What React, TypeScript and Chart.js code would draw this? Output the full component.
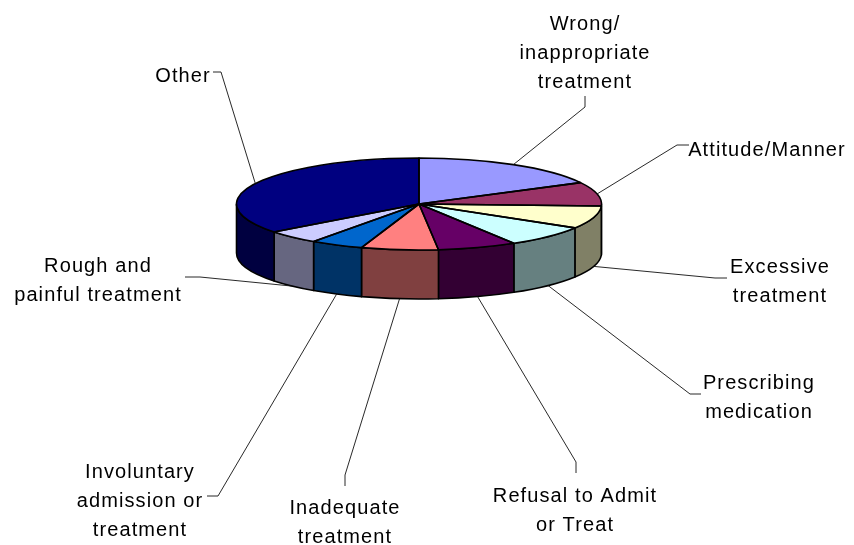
import React, { useEffect, useRef } from "react";
import { Chart, registerables } from "chart.js";

Chart.register(...registerables);

const categories = [
  "Wrong/inappropriate treatment",
  "Attitude/Manner",
  "Excessive treatment",
  "Prescribing medication",
  "Refusal to Admit or Treat",
  "Inadequate treatment",
  "Involuntary admission or treatment",
  "Rough and painful treatment",
  "Other",
];
const shareValues = [17.3, 8.4, 8.0, 7.6, 7.0, 6.8, 4.7, 4.8, 35.4];
const topColors = ["#9999FF", "#993366", "#FFFFCC", "#CCFFFF", "#660066", "#FF8080", "#0066CC", "#CCCCFF", "#000080"];
const wallColors = ["#4D4D80", "#4D1A33", "#808066", "#668080", "#330033", "#804040", "#003366", "#666680", "#000040"];

const labelLines = [
  ["Wrong/", "inappropriate", "treatment"],
  ["Attitude/Manner"],
  ["Excessive", "treatment"],
  ["Prescribing", "medication"],
  ["Refusal to Admit", "or Treat"],
  ["Inadequate", "treatment"],
  ["Involuntary", "admission or", "treatment"],
  ["Rough and", "painful treatment"],
  ["Other"],
];
// label layout: centre x and first baseline y of each text block
const labelCentreX = [585, 767, 780, 759, 575, 345, 140, 98, 183];
const labelFirstBaseline = [30, 156, 273, 389, 502, 514, 478, 272, 82];
// leader lines: elbow and end point, in pixels
const leaderElbows = [[585, 107], [677, 145], [715, 278], [690, 394], [576, 462], [345, 475], [218, 496], [200, 277], [221, 72]];
const leaderEnds = [[585, 96], [689, 145], [727, 278], [701, 394], [576, 473], [345, 486], [207, 496], [185, 277], [213, 72]];

const FLATTEN = 46 / 182.5;
const DEPTH = 49;
const LINE_GAP = 29;

const pie3d = {
  id: "pie3d",
  beforeDatasetsDraw(chart: any) {
    const { ctx } = chart;
    const arcs = chart.getDatasetMeta(0).data;
    ctx.save();
    arcs.forEach((a: any, i: number) => {
      const s = Math.max(a.startAngle, 0);
      const e = Math.min(a.endAngle, Math.PI);
      if (e <= s) return;
      const ry = a.outerRadius * FLATTEN;
      ctx.beginPath();
      ctx.ellipse(a.x, a.y, a.outerRadius, ry, 0, s, e);
      ctx.ellipse(a.x, a.y + DEPTH, a.outerRadius, ry, 0, e, s, true);
      ctx.closePath();
      ctx.fillStyle = wallColors[i];
      ctx.fill();
      ctx.strokeStyle = "#000";
      ctx.lineWidth = 1.6;
      ctx.lineJoin = "round";
      ctx.stroke();
    });
    ctx.restore();
  },
  beforeDatasetDraw(chart: any) {
    const { ctx } = chart;
    const a = chart.getDatasetMeta(0).data[0];
    ctx.save();
    ctx.translate(a.x, a.y);
    ctx.scale(1, FLATTEN);
    ctx.translate(-a.x, -a.y);
  },
  afterDatasetDraw(chart: any) {
    const { ctx } = chart;
    ctx.restore();
    const arcs = chart.getDatasetMeta(0).data;
    ctx.save();
    arcs.forEach((a: any) => {
      ctx.beginPath();
      ctx.moveTo(a.x, a.y);
      ctx.ellipse(a.x, a.y, a.outerRadius, a.outerRadius * FLATTEN, 0, a.startAngle, a.endAngle);
      ctx.closePath();
      ctx.strokeStyle = "#000";
      ctx.lineWidth = 1.6;
      ctx.lineJoin = "round";
      ctx.stroke();
    });
    arcs.forEach((a: any, i: number) => {
      const mid = (a.startAngle + a.endAngle) / 2;
      const sin = Math.sin(mid);
      const sx = a.x + a.outerRadius * Math.cos(mid);
      const sy = a.y + a.outerRadius * FLATTEN * sin + (sin > 0 ? DEPTH : 0);
      ctx.beginPath();
      ctx.moveTo(sx, sy);
      ctx.lineTo(leaderElbows[i][0], leaderElbows[i][1]);
      ctx.lineTo(leaderEnds[i][0], leaderEnds[i][1]);
      ctx.strokeStyle = "#111";
      ctx.lineWidth = 0.9;
      ctx.stroke();
    });
    ctx.fillStyle = "#000";
    ctx.font = '20px "Liberation Sans", Arial, sans-serif';
    ctx.textAlign = "center";
    ctx.textBaseline = "alphabetic";
    (ctx as any).letterSpacing = "1.1px";
    labelLines.forEach((lines, i) => {
      lines.forEach((t, j) => {
        ctx.fillText(t, labelCentreX[i], labelFirstBaseline[i] + j * LINE_GAP);
      });
    });
    ctx.restore();
  },
};

export default function App() {
  const ref = useRef<HTMLCanvasElement>(null);
  useEffect(() => {
    document.body.style.margin = "0";
    document.body.style.background = "#fff";
    const chart = new Chart(ref.current!, {
      type: "pie",
      data: {
        labels: categories,
        datasets: [{ data: shareValues, backgroundColor: topColors, borderWidth: 0 }],
      },
      options: {
        responsive: false,
        animation: false,
        events: [],
        layout: { padding: { left: 236.5, right: 252.5, top: 21.5, bottom: 158.5 } },
        plugins: { legend: { display: false }, tooltip: { enabled: false } },
      },
      plugins: [pie3d],
    } as any);
    return () => chart.destroy();
  }, []);
  return <canvas ref={ref} width={854} height={545} style={{ display: "block" }} />;
}
